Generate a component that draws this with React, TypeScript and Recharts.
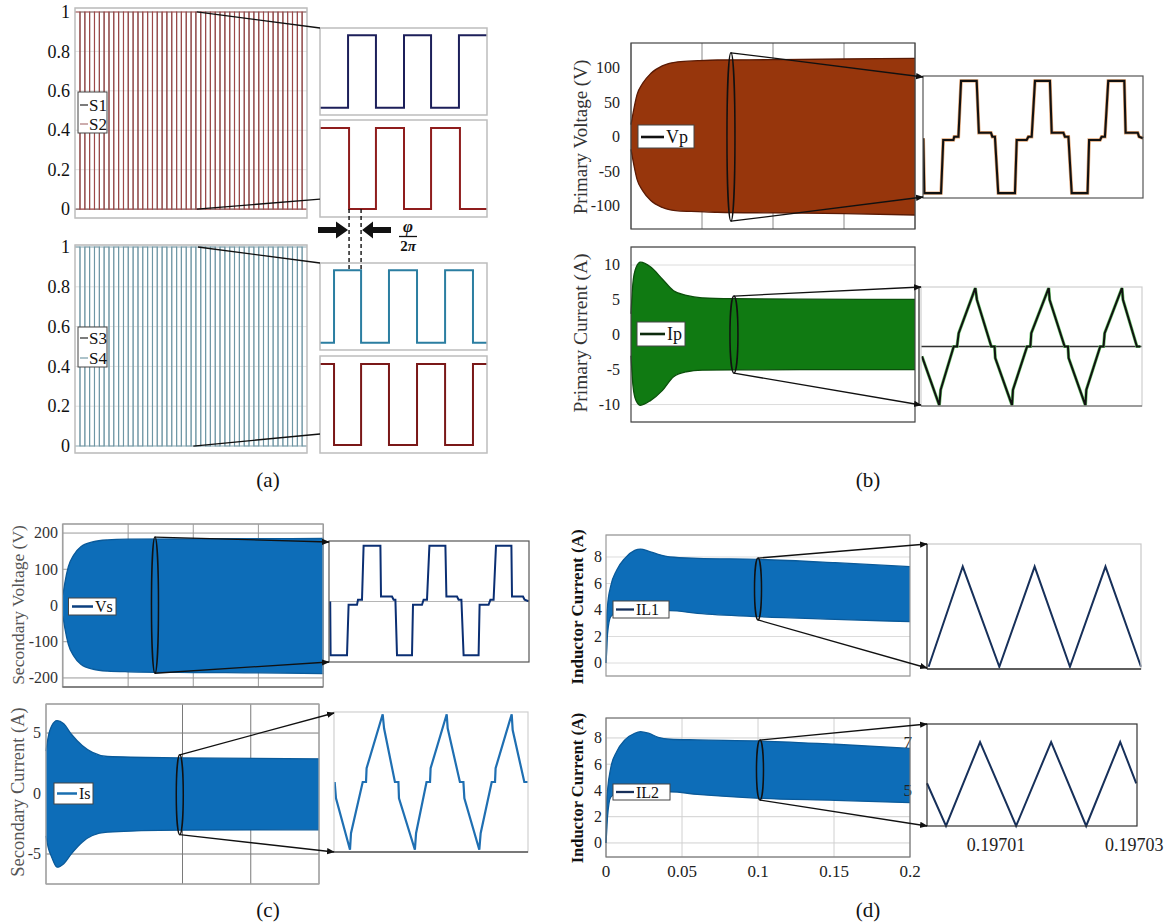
import React from 'react';
import { ComposedChart, Line, Area, XAxis, YAxis, CartesianGrid, ReferenceLine } from 'recharts';

const SERIF = '"Liberation Serif", "Times New Roman", serif';

// ---------------- data ----------------
// (a) gate signals: switching instants (s) over the 0..0.2 s window
const switchEdges = [0.0043, 0.0085, 0.0126, 0.0168, 0.021, 0.0251, 0.0293, 0.0334, 0.0376, 0.0418, 0.0459, 0.0501, 0.0543, 0.0584, 0.0626, 0.0668, 0.0709, 0.0751, 0.0792, 0.0834, 0.0876, 0.0917, 0.0959, 0.1001, 0.1042, 0.1084, 0.1126, 0.1167, 0.1209, 0.125, 0.1292, 0.1334, 0.1375, 0.1417, 0.1459, 0.15, 0.1542, 0.1584, 0.1625, 0.1667, 0.1708, 0.175, 0.1792, 0.1833, 0.1875, 0.1917, 0.1958];
const gateTicks = [0, 0.2, 0.4, 0.6, 0.8, 1];
// zoomed gate signals (zoom window 0..100)
const s1ZoomEdges = [16.8, 33.5, 50.3, 66.5, 83.2];
const s2ZoomEdges = [17.4, 33.5, 50.3, 66.5, 83.8];
const s3ZoomEdges = [8.4, 24.6, 41.3, 58.1, 74.9, 91.6];
const s4ZoomEdges = [8.4, 24.6, 41.3, 58.1, 74.9, 91.6];

const timeTicks = [0, 0.05, 0.1, 0.15, 0.2];

// (b) primary voltage envelope
const vpTime = [0, 0.0014, 0.0042, 0.0083, 0.0139, 0.022, 0.033, 0.047, 0.061, 0.1, 0.15, 0.2];
const vpUpper = [18, 34, 61, 78, 92, 103, 109, 110.6, 111.6, 112, 113, 114];
const vpLower = [-18, -34, -61, -78, -92, -102, -107, -108, -109, -110, -111, -113];
const vpTicks = [-100, -50, 0, 50, 100];
const vpZoomT = [0.15, 0.6, 8.2, 9.2, 13.8, 14.2, 16.1, 17.3, 24.4, 25.4, 30.9, 31.5, 32.7, 34.2, 41.8, 42.6, 47.1, 47.9, 49.4, 50.9, 57.7, 58.5, 63.8, 64.5, 66.1, 67.6, 74.8, 75.5, 80.5, 81.2, 82.7, 84.2, 91.5, 92.1, 97.6, 98.2, 100];
const vpZoomV = [-2, -92, -92, -5, -5, 0.5, 0.5, 92, 92, 7, 7, 0.5, 0.5, -92, -92, -5, -5, 0.5, 0.5, 92, 92, 7, 7, 0.5, 0.5, -92, -92, -5, -5, 0.5, 0.5, 92, 92, 7, 7, 0.5, -2];

// (b) primary current envelope
const ipTime = [0, 0.0014, 0.0035, 0.0067, 0.0139, 0.022, 0.03, 0.039, 0.05, 0.072, 0.12, 0.2];
const ipUpper = [3, 7.5, 9.6, 10.4, 9.7, 8.0, 6.3, 5.65, 5.3, 5.17, 5.1, 5.07];
const ipLower = [-3, -7.3, -9.4, -10.1, -9.4, -8.0, -6.0, -5.3, -5.07, -5.03, -5.0, -5.0];
const ipTicks = [-10, -5, 0, 5, 10];
const ipZoomT = [0.45, 8.3, 8.9, 14.8, 16.3, 17.05, 24.6, 25.3, 31.8, 33.3, 33.6, 41.2, 41.6, 48.0, 49.5, 49.9, 57.8, 58.2, 65.0, 66.5, 66.8, 74.4, 74.8, 81.1, 82.6, 83.1, 90.95, 91.4, 97.7, 99.2];
const ipZoomV = [-1.7, -10.2, -7.5, 0, 0, 2.3, 10.15, 8.1, 0, 0, -2.0, -10.2, -7.5, 0, 0, 2.3, 10.15, 8.1, 0, 0, -2.0, -10.2, -7.5, 0, 0, 2.3, 10.15, 8.1, 0, 0];

// (c) secondary voltage envelope
const vsTime = [0, 0.0014, 0.0041, 0.0082, 0.0137, 0.0233, 0.034, 0.05, 0.1, 0.15, 0.2];
const vsUpper = [30, 62, 107, 139, 162, 176, 181, 183, 184, 184.5, 185];
const vsLower = [-30, -62, -107, -139, -162, -176, -181, -183, -185, -186, -188];
const vsTicks = [-200, -100, 0, 100, 200];
const vsZoomT = [0.6, 0.8, 9, 9.8, 14, 14.5, 16.5, 17.3, 25.7, 26, 31.5, 32.3, 33.2, 34, 41.5, 42, 46.5, 47.3, 49, 50.2, 58.2, 58.7, 64, 64.8, 66.2, 67.3, 74.8, 75.3, 79.8, 80.7, 82.3, 83.5, 91.2, 91.5, 97, 97.8, 99.8];
const vsZoomV = [0, -178, -178, -11, -11, 5.6, 5.6, 184, 184, 16.6, 16.6, 5.6, 5.6, -178, -178, -11, -11, 5.6, 5.6, 184, 184, 16.6, 16.6, 5.6, 5.6, -178, -178, -11, -11, 5.6, 5.6, 184, 184, 16.6, 16.6, 5.6, 1];

// (c) secondary current envelope
const isTime = [0, 0.0015, 0.0042, 0.0081, 0.013, 0.0186, 0.0265, 0.034, 0.045, 0.097, 0.2];
const isUpper = [3.5, 4.6, 5.6, 6.03, 5.76, 4.9, 3.97, 3.4, 3.06, 2.95, 2.87];
const isLower = [-3.5, -4.4, -5.26, -6.09, -5.8, -4.98, -4.02, -3.47, -3.2, -3.03, -3.0];
const isTicks = [-5, 0, 5];
const isZoomT = [0.34, 1.03, 8.25, 8.76, 14.8, 16.5, 16.8, 25.1, 25.8, 31.4, 33.2, 33.5, 41.7, 42.3, 47.7, 49.5, 49.8, 58.1, 58.6, 64.9, 66.7, 67.2, 74.9, 75.6, 81.3, 83.0, 83.3, 91.6, 92.1, 98.1, 100];
const isZoomV = [0, -0.72, -3.0, -2.27, 0, 0, 0.61, 3.0, 2.38, 0, 0, -0.72, -3.0, -2.27, 0, 0, 0.61, 3.0, 2.38, 0, 0, -0.72, -3.0, -2.27, 0, 0, 0.61, 3.0, 2.3, 0, 0];

// (d) inductor currents
const il1Time = [0, 0.0005, 0.001, 0.0031, 0.007, 0.0124, 0.0189, 0.0227, 0.0279, 0.0343, 0.0421, 0.0602, 0.1003, 0.1507, 0.2];
const il1Upper = [0, 3.5, 4.3, 5.8, 7.0, 7.9, 8.5, 8.6, 8.45, 8.2, 8.0, 7.9, 7.82, 7.57, 7.27];
const il1Lower = [0, 1.0, 2.2, 3.5, 3.8, 3.9, 3.95, 3.95, 3.95, 3.95, 3.95, 3.75, 3.5, 3.3, 3.12];
const il2Time = [0, 0.0005, 0.001, 0.0031, 0.007, 0.0124, 0.0189, 0.0227, 0.0279, 0.0343, 0.0421, 0.0602, 0.1013, 0.1507, 0.2];
const il2Upper = [0, 3.2, 4.0, 5.7, 6.95, 7.85, 8.36, 8.48, 8.36, 8.05, 7.9, 7.85, 7.77, 7.52, 7.2];
const il2Lower = [0, 1.0, 2.0, 3.5, 3.8, 3.9, 3.9, 3.9, 3.9, 3.9, 3.9, 3.7, 3.4, 3.25, 3.07];
const ilTicks = [0, 2, 4, 6, 8];
const il1ZoomT = [0.75, 16.7, 33.8, 50.3, 66.8, 83.4, 100];
const il1ZoomV = [3.2, 7.2, 3.2, 7.2, 3.2, 7.2, 3.2];
const il2ZoomT = [0.197, 0.19700275, 0.19700768, 0.1970129, 0.19701797, 0.19702304, 0.19702797, 0.19703029];
const il2ZoomV = [5.28, 3.5, 7.0, 3.5, 7.0, 3.5, 7.0, 5.28];
const il2ZoomXTicks = [0.19701, 0.19703];
const il2ZoomYTicks = [5, 7];

// ---------------- builders ----------------
type Pt = { t: number; v: number };
const toPoints = (ts: number[], vs: number[]): Pt[] => ts.map((t, i) => ({ t, v: vs[i] }));
const toBand = (ts: number[], hi: number[], lo: number[]) => ts.map((t, i) => ({ t, band: [lo[i], hi[i]] }));
function stepSeries(edges: number[], startHigh: boolean, t0: number, t1: number): Pt[] {
  let level = startHigh ? 1 : 0;
  const pts: Pt[] = [{ t: t0, v: level }];
  for (const e of edges) {
    pts.push({ t: e, v: level });
    level = 1 - level;
    pts.push({ t: e, v: level });
  }
  pts.push({ t: t1, v: level });
  return pts;
}

// ---------------- layout ----------------
type Box = { x: number; y: number; w: number; h: number };
type Dom = [number, number];
const T: Dom = [0, 0.2];
const Z: Dom = [0, 100];

const aTopBox: Box = { x: 75, y: 8, w: 232, h: 210 };
const aTopDom: Dom = [-0.045, 1.02];
const aBotBox: Box = { x: 75, y: 245, w: 232, h: 208 };
const aBotDom: Dom = [-0.035, 1.01];
const s1Box: Box = { x: 320, y: 28, w: 167, h: 87 };
const s2Box: Box = { x: 320, y: 120, w: 167, h: 97 };
const s3Box: Box = { x: 320, y: 263, w: 167, h: 87 };
const s4Box: Box = { x: 320, y: 356, w: 167, h: 97 };
const sDom: Dom = [-0.1, 1.1];

const vpBox: Box = { x: 631, y: 43, w: 284, h: 186 };
const vpDom: Dom = [-133.3, 136.2];
const vpZBox: Box = { x: 923, y: 76, w: 220, h: 122 };
const vpZDom: Dom = [-100, 100];
const ipBox: Box = { x: 631, y: 247, w: 284, h: 175 };
const ipDom: Dom = [-12.5, 12.58];
const ipZBox: Box = { x: 921, y: 287, w: 221, h: 119 };
const ipZDom: Dom = [-10.3, 10.3];

const vsBox: Box = { x: 62.5, y: 524, w: 260.5, h: 163 };
const vsDom: Dom = [-225, 225];
const vsZBox: Box = { x: 329, y: 541, w: 200, h: 121 };
const vsZDom: Dom = [-200, 200];
const isBox: Box = { x: 46, y: 704, w: 273, h: 180 };
const isDom: Dom = [-7.48, 7.4];
const isZBox: Box = { x: 334, y: 712, w: 194, h: 140 };
const isZDom: Dom = [-3.1, 3.1];

const il1Box: Box = { x: 606, y: 535, w: 304, h: 141 };
const il1Dom: Dom = [-0.98, 9.66];
const il1ZBox: Box = { x: 927, y: 544, w: 214, h: 125 };
const il1ZDom: Dom = [3.11, 8.1];
const il2Box: Box = { x: 606, y: 718, w: 304, h: 139 };
const il2Dom: Dom = [-1.07, 9.52];
const il2ZBox: Box = { x: 927, y: 724, w: 210, h: 102 };
const il2ZDom: Dom = [3.5, 7.75];
const il2ZXDom: Dom = [0.197, 0.1970304];

const px = (b: Box, d: Dom, t: number) => b.x + ((t - d[0]) / (d[1] - d[0])) * b.w;
const py = (b: Box, d: Dom, v: number) => b.y + ((d[1] - v) / (d[1] - d[0])) * b.h;

// ---------------- tick renderers ----------------
const yTickRenderer = (fs: number, color: string) => (props: any) => (
  <text x={props.x} y={props.y} dy="0.34em" textAnchor="end" fontFamily={SERIF} fontSize={fs} fill={color}>
    {props.payload.value}
  </text>
);
const xTickRenderer = (fs: number, color: string) => (props: any) => (
  <text x={props.x} y={props.y} dy="0.71em" textAnchor="middle" fontFamily={SERIF} fontSize={fs} fill={color}>
    {props.payload.value}
  </text>
);

// ---------------- plot wrapper ----------------
interface PlotProps {
  box: Box;
  xDomain: Dom;
  yDomain: Dom;
  yTicks?: number[];
  xTicks?: number[];
  showY?: boolean;
  showX?: boolean;
  gridH?: boolean;
  gridV?: boolean;
  gridColor?: string;
  fontSize?: number;
  xFontSize?: number;
  tickColor?: string;
  yGap?: number;
  xGap?: number;
  padL?: number;
  padB?: number;
  padR?: number;
  children?: React.ReactNode;
}

function Plot(p: PlotProps) {
  const padL = p.showY ? p.padL ?? 50 : 0;
  const padB = p.showX ? p.padB ?? 30 : 0;
  const padT = p.showY ? 12 : 1;
  const extraB = p.showY && !p.showX ? 12 : 0;
  const padR = p.padR ?? 1;
  const W = p.box.w + padL + padR;
  const H = p.box.h + padT + padB + extraB;
  const color = p.tickColor ?? '#222';
  return (
    <div style={{ position: 'absolute', left: p.box.x - padL, top: p.box.y - padT, width: W, height: H }}>
      <ComposedChart width={W} height={H} margin={{ top: padT, right: padR, bottom: extraB, left: 0 }}>
        {(p.gridH || p.gridV) && (
          <CartesianGrid horizontal={!!p.gridH} vertical={!!p.gridV} stroke={p.gridColor ?? '#ddd'} strokeWidth={1} />
        )}
        <XAxis
          type="number"
          dataKey="t"
          domain={p.xDomain}
          ticks={p.xTicks}
          interval={0}
          hide={!p.showX}
          height={padB}
          tickSize={0}
          tickMargin={p.xGap ?? 8}
          axisLine={false}
          tickLine={false}
          tick={xTickRenderer(p.xFontSize ?? p.fontSize ?? 15, color)}
        />
        <YAxis
          type="number"
          domain={p.yDomain}
          ticks={p.yTicks}
          interval={0}
          hide={!p.showY}
          width={padL}
          tickSize={0}
          tickMargin={p.yGap ?? 6}
          axisLine={false}
          tickLine={false}
          tick={yTickRenderer(p.fontSize ?? 15, color)}
        />
        {p.children}
      </ComposedChart>
    </div>
  );
}

const band = (data: any[], fill: string, stroke: string) => (
  <Area
    data={data}
    dataKey="band"
    type="monotone"
    fill={fill}
    fillOpacity={1}
    stroke={stroke}
    strokeWidth={1.3}
    dot={false}
    activeDot={false}
    isAnimationActive={false}
  />
);

const wave = (data: Pt[], stroke: string, width = 2, key?: string) => (
  <Line
    key={key}
    data={data}
    dataKey="v"
    type="linear"
    stroke={stroke}
    strokeWidth={width}
    dot={false}
    activeDot={false}
    isAnimationActive={false}
  />
);

// ---------------- overlay helpers ----------------
function Rect({ b, c, w = 1.2 }: { b: Box; c: string; w?: number }) {
  return <rect x={b.x} y={b.y} width={b.w} height={b.h} fill="none" stroke={c} strokeWidth={w} />;
}

function Legend({ x, y, w, h, items, fontSize }: { x: number; y: number; w: number; h: number; fontSize: number; items: { label: string; color: string; lx1: number; lx2: number; ty: number; tx: number; lw?: number }[] }) {
  return (
    <g>
      <rect x={x} y={y} width={w} height={h} fill="#fff" stroke="#444" strokeWidth={1} />
      {items.map((it, i) => (
        <g key={i}>
          <line x1={it.lx1} x2={it.lx2} y1={it.ty} y2={it.ty} stroke={it.color} strokeWidth={it.lw ?? 2.2} />
          <text x={it.tx} y={it.ty} dy="0.35em" fontFamily={SERIF} fontSize={fontSize} fill="#111">
            {it.label}
          </text>
        </g>
      ))}
    </g>
  );
}

function YLabel({ x, y, text, size, color = '#333', bold = false }: { x: number; y: number; text: string; size: number; color?: string; bold?: boolean }) {
  return (
    <text
      x={x}
      y={y}
      transform={`rotate(-90 ${x} ${y})`}
      textAnchor="middle"
      dominantBaseline="central"
      fontFamily={SERIF}
      fontSize={size}
      fontWeight={bold ? 'bold' : 'normal'}
      fill={color}
    >
      {text}
    </text>
  );
}

type Zoom = { t: number; hi: number; lo: number };

export default function App() {
  // (a) data
  const s1Main = stepSeries(switchEdges, false, 0, 0.2);
  const s2Main = stepSeries(switchEdges, true, 0, 0.2);
  const s3Main = stepSeries(switchEdges, false, 0, 0.2);
  const s4Main = stepSeries(switchEdges, true, 0, 0.2);
  const s1Zoom = stepSeries(s1ZoomEdges, false, 0, 100);
  const s2Zoom = stepSeries(s2ZoomEdges, true, 0, 100);
  const s3Zoom = stepSeries(s3ZoomEdges, false, 0, 100);
  const s4Zoom = stepSeries(s4ZoomEdges, true, 0, 100);

  // zoom annotation anchors (data coords)
  const vpEll: Zoom = { t: 0.0704, hi: 122, lo: -122 };
  const ipEll: Zoom = { t: 0.0725, hi: 5.55, lo: -5.5 };
  const vsEll: Zoom = { t: 0.071, hi: 189, lo: -187 };
  const isEll: Zoom = { t: 0.098, hi: 3.2, lo: -3.4 };
  const il1Ell: Zoom = { t: 0.1, hi: 7.92, lo: 3.25 };
  const il2Ell: Zoom = { t: 0.1013, hi: 7.84, lo: 3.27 };

  const ellipse = (b: Box, d: Dom, e: Zoom, rx: number) => {
    const cx = px(b, T, e.t);
    const y1 = py(b, d, e.hi);
    const y2 = py(b, d, e.lo);
    return <ellipse cx={cx} cy={(y1 + y2) / 2} rx={rx} ry={(y2 - y1) / 2} fill="none" stroke="#111" strokeWidth={1.5} />;
  };
  const connectors = (b: Box, d: Dom, e: Zoom, zb: Box, topY: number, botY: number) => {
    const x = px(b, T, e.t);
    return (
      <g>
        <line x1={x} y1={py(b, d, e.hi)} x2={zb.x} y2={topY} stroke="#111" strokeWidth={1.3} markerEnd="url(#arr)" />
        <line x1={x} y1={py(b, d, e.lo)} x2={zb.x} y2={botY} stroke="#111" strokeWidth={1.3} markerEnd="url(#arr)" />
      </g>
    );
  };

  const dash1x = px(s2Box, Z, s2ZoomEdges[0]);
  const dash2x = px(s3Box, Z, s3ZoomEdges[1]);
  const dashTop = py(s2Box, sDom, 0);
  const dashBot = py(s3Box, sDom, 1);

  return (
    <div style={{ position: 'absolute', left: 0, top: 0, width: 1176, height: 924, background: '#fff', overflow: 'hidden', fontFamily: SERIF }}>
      {/* ---------------- (a) ---------------- */}
      <Plot box={aTopBox} xDomain={T} yDomain={aTopDom} yTicks={gateTicks} showY gridH gridColor="#e2e2e2" fontSize={18} tickColor="#111" yGap={5} padL={70}>
        {wave(s1Main, '#7c5a5a', 1.1)}
        {wave(s2Main, '#9c4848', 1.1)}
      </Plot>
      <Plot box={aBotBox} xDomain={T} yDomain={aBotDom} yTicks={gateTicks} showY gridH gridColor="#e2e2e2" fontSize={18} tickColor="#111" yGap={5} padL={70}>
        {wave(s3Main, '#9ab5bf', 1.1)}
        {wave(s4Main, '#6e96a4', 1.1)}
      </Plot>
      <Plot box={s1Box} xDomain={Z} yDomain={sDom}>{wave(s1Zoom, '#1c1f5a', 2)}</Plot>
      <Plot box={s2Box} xDomain={Z} yDomain={sDom}>{wave(s2Zoom, '#8f1d1d', 2)}</Plot>
      <Plot box={s3Box} xDomain={Z} yDomain={sDom}>{wave(s3Zoom, '#2b7ea1', 2)}</Plot>
      <Plot box={s4Box} xDomain={Z} yDomain={sDom}>{wave(s4Zoom, '#7a1818', 2)}</Plot>

      {/* ---------------- (b) ---------------- */}
      <Plot box={vpBox} xDomain={T} yDomain={vpDom} yTicks={vpTicks} xTicks={[0.05, 0.1, 0.15]} showY gridV gridColor="#8a8a8a" fontSize={16} yGap={11} padL={50}>
        {band(toBand(vpTime, vpUpper, vpLower), '#97360c', '#5a1a04')}
      </Plot>
      <Plot box={vpZBox} xDomain={Z} yDomain={vpZDom}>
        {wave(toPoints(vpZoomT, vpZoomV), '#e2a574', 3.4, 'u')}
        {wave(toPoints(vpZoomT, vpZoomV), '#111', 2.1, 'o')}
      </Plot>
      <Plot box={ipBox} xDomain={T} yDomain={ipDom} yTicks={ipTicks} showY gridH gridColor="#dcdcdc" fontSize={16} yGap={11} padL={50}>
        {band(toBand(ipTime, ipUpper, ipLower), '#107a12', '#0b4f0b')}
      </Plot>
      <Plot box={ipZBox} xDomain={Z} yDomain={ipZDom}>
        <ReferenceLine y={0} stroke="#333" strokeWidth={1.5} />
        {wave(toPoints(ipZoomT, ipZoomV), '#6cc46c', 3.2, 'u')}
        {wave(toPoints(ipZoomT, ipZoomV), '#111', 2, 'o')}
      </Plot>

      {/* ---------------- (c) ---------------- */}
      <Plot box={vsBox} xDomain={T} yDomain={vsDom} yTicks={vsTicks} xTicks={[0.05, 0.1, 0.15]} showY gridH gridV gridColor="#9a9a9a" fontSize={16} tickColor="#333" yGap={5} padL={60}>
        {band(toBand(vsTime, vsUpper, vsLower), '#0d6db8', '#0a5a9a')}
      </Plot>
      <Plot box={vsZBox} xDomain={Z} yDomain={vsZDom}>
        <ReferenceLine y={0} stroke="#b5b5b5" strokeWidth={1.2} />
        {wave(toPoints(vsZoomT, vsZoomV), '#0b2f73', 2)}
      </Plot>
      <Plot box={isBox} xDomain={T} yDomain={isDom} yTicks={isTicks} xTicks={[0.1, 0.15]} showY gridH gridV gridColor="#7a7a7a" fontSize={16} tickColor="#333" yGap={5} padL={44}>
        {band(toBand(isTime, isUpper, isLower), '#0d6db8', '#0a5a9a')}
      </Plot>
      <Plot box={isZBox} xDomain={Z} yDomain={isZDom}>{wave(toPoints(isZoomT, isZoomV), '#1f6fb2', 2.2)}</Plot>

      {/* ---------------- (d) ---------------- */}
      <Plot box={il1Box} xDomain={T} yDomain={il1Dom} yTicks={ilTicks} showY gridH gridColor="#dcdcdc" fontSize={16} yGap={4} padL={44}>
        {band(toBand(il1Time, il1Upper, il1Lower), '#0d6db8', '#0a5a9a')}
      </Plot>
      <Plot box={il1ZBox} xDomain={Z} yDomain={il1ZDom}>{wave(toPoints(il1ZoomT, il1ZoomV), '#17305a', 2)}</Plot>
      <Plot box={il2Box} xDomain={T} yDomain={il2Dom} yTicks={ilTicks} xTicks={timeTicks} showY showX gridH gridV gridColor="#d0d0d0" fontSize={16} xFontSize={17} yGap={4} xGap={8} padL={44} padB={30} padR={16}>
        {band(toBand(il2Time, il2Upper, il2Lower), '#0d6db8', '#0a5a9a')}
      </Plot>
      <Plot box={il2ZBox} xDomain={il2ZXDom} yDomain={il2ZDom} yTicks={il2ZoomYTicks} xTicks={il2ZoomXTicks} showY showX fontSize={17} xFontSize={18} yGap={15} xGap={12} padL={30} padB={34} padR={36}>
        {wave(toPoints(il2ZoomT, il2ZoomV), '#17305a', 2)}
      </Plot>

      {/* ---------------- annotations ---------------- */}
      <svg width={1176} height={924} style={{ position: 'absolute', left: 0, top: 0, pointerEvents: 'none' }}>
        <defs>
          <marker id="arr" viewBox="0 0 10 10" refX="9" refY="5" markerWidth="6" markerHeight="6" orient="auto">
            <path d="M0,1 L10,5 L0,9 z" fill="#111" />
          </marker>
        </defs>

        {/* frames (a) */}
        <Rect b={aTopBox} c="#bdbdbd" w={1.5} />
        <Rect b={aBotBox} c="#bdbdbd" w={1.5} />
        <Rect b={s1Box} c="#bdbdbd" w={1.5} />
        <Rect b={s2Box} c="#bdbdbd" w={1.5} />
        <Rect b={s3Box} c="#bdbdbd" w={1.5} />
        <Rect b={s4Box} c="#bdbdbd" w={1.5} />

        {/* (a) zoom connectors */}
        <line x1={px(aTopBox, T, 0.105)} y1={py(aTopBox, aTopDom, 1)} x2={s1Box.x} y2={s1Box.y} stroke="#111" strokeWidth={1.3} />
        <line x1={px(aTopBox, T, 0.105)} y1={py(aTopBox, aTopDom, 0)} x2={s2Box.x} y2={py(s2Box, sDom, 0.12)} stroke="#111" strokeWidth={1.3} />
        <line x1={px(aBotBox, T, 0.106)} y1={py(aBotBox, aBotDom, 1)} x2={s3Box.x} y2={s3Box.y} stroke="#111" strokeWidth={1.3} />
        <line x1={px(aBotBox, T, 0.102)} y1={py(aBotBox, aBotDom, 0)} x2={s4Box.x} y2={py(s4Box, sDom, 0.135)} stroke="#111" strokeWidth={1.3} />

        {/* phase shift annotation */}
        <line x1={dash1x} x2={dash1x} y1={dashTop} y2={dashBot} stroke="#111" strokeWidth={1.4} strokeDasharray="4 3" />
        <line x1={dash2x} x2={dash2x} y1={dashTop} y2={dashBot} stroke="#111" strokeWidth={1.4} strokeDasharray="4 3" />
        <polygon points={`318,227 336,227 336,221.5 ${dash1x - 1},230 336,238.5 336,233 318,233`} fill="#111" />
        <polygon points={`391,227 373,227 373,221.5 ${dash2x + 1},230 373,238.5 373,233 391,233`} fill="#111" />
        <text x={408} y={226} textAnchor="middle" dominantBaseline="central" fontFamily={SERIF} fontStyle="italic" fontWeight="bold" fontSize={17} fill="#111">φ</text>
        <line x1={399} x2={417} y1={236.5} y2={236.5} stroke="#111" strokeWidth={1.3} />
        <text x={408} y={246} textAnchor="middle" dominantBaseline="central" fontFamily={SERIF} fontWeight="bold" fontSize={15} fill="#111">2<tspan fontStyle="italic">π</tspan></text>

        <Legend x={78} y={92} w={29} h={41} fontSize={17} items={[
          { label: 'S1', color: '#444', lx1: 80, lx2: 88, ty: 105, tx: 89, lw: 1.4 },
          { label: 'S2', color: '#b88a8a', lx1: 80, lx2: 88, ty: 124, tx: 89, lw: 1.4 },
        ]} />
        <Legend x={78} y={327} w={29} h={40} fontSize={17} items={[
          { label: 'S3', color: '#444', lx1: 80, lx2: 88, ty: 338, tx: 89, lw: 1.4 },
          { label: 'S4', color: '#8aa9b3', lx1: 80, lx2: 88, ty: 358, tx: 89, lw: 1.4 },
        ]} />

        {/* frames (b) */}
        <Rect b={vpBox} c="#444" />
        <Rect b={vpZBox} c="#555" />
        <Rect b={ipBox} c="#444" />
        <Rect b={ipZBox} c="#cfcfcf" />
        <line x1={ipZBox.x} x2={ipZBox.x + ipZBox.w} y1={ipZBox.y + ipZBox.h} y2={ipZBox.y + ipZBox.h} stroke="#555" strokeWidth={1.2} />
        <line x1={ipZBox.x - 2} x2={ipZBox.x - 2} y1={ipZBox.y} y2={ipZBox.y + ipZBox.h} stroke="#222" strokeWidth={1.2} />
        {ellipse(vpBox, vpDom, vpEll, 4)}
        {connectors(vpBox, vpDom, vpEll, vpZBox, vpZBox.y + 1, vpZBox.y + vpZBox.h - 1)}
        {ellipse(ipBox, ipDom, ipEll, 4)}
        {connectors(ipBox, ipDom, ipEll, ipZBox, ipZBox.y, ipZBox.y + ipZBox.h - 1)}
        <Legend x={638} y={125} w={56} h={23} fontSize={18} items={[
          { label: 'Vp', color: '#111', lx1: 641, lx2: 664, ty: 137, tx: 666, lw: 2.6 },
        ]} />
        <Legend x={637} y={322} w={48} h={24} fontSize={18} items={[
          { label: 'Ip', color: '#0c2a0c', lx1: 640, lx2: 665, ty: 334, tx: 667, lw: 2.6 },
        ]} />
        <YLabel x={580} y={137} text="Primary Voltage (V)" size={19} color="#333" />
        <YLabel x={580} y={333} text="Primary Current (A)" size={19.5} color="#333" />

        {/* frames (c) */}
        <Rect b={vsBox} c="#a0a0a0" />
        <line x1={vsBox.x} x2={vsBox.x + vsBox.w} y1={vsBox.y + vsBox.h} y2={vsBox.y + vsBox.h} stroke="#555" strokeWidth={1.2} />
        <Rect b={vsZBox} c="#555" />
        <Rect b={isBox} c="#aaaaaa" />
        <Rect b={isZBox} c="#d0d0d0" />
        <line x1={isZBox.x} x2={isZBox.x + isZBox.w} y1={isZBox.y + isZBox.h} y2={isZBox.y + isZBox.h} stroke="#555" strokeWidth={1.4} />
        {ellipse(vsBox, vsDom, vsEll, 3.5)}
        {connectors(vsBox, vsDom, vsEll, vsZBox, vsZBox.y + 1, vsZBox.y + vsZBox.h)}
        {ellipse(isBox, isDom, isEll, 3.5)}
        {connectors(isBox, isDom, isEll, isZBox, isZBox.y + 1, isZBox.y + isZBox.h)}
        <Legend x={68.5} y={598} w={47.5} h={17} fontSize={16} items={[
          { label: 'Vs', color: '#0b3f7f', lx1: 72, lx2: 93, ty: 606.5, tx: 95, lw: 2.5 },
        ]} />
        <Legend x={54} y={783} w={39} h={21} fontSize={16} items={[
          { label: 'Is', color: '#1a6fb0', lx1: 57, lx2: 77, ty: 793.5, tx: 79, lw: 2.5 },
        ]} />
        <YLabel x={18} y={605} text="Secondary Voltage (V)" size={17.5} color="#555" />
        <YLabel x={18} y={792} text="Secondary Current (A)" size={18.5} color="#555" />

        {/* frames (d) */}
        <Rect b={il1Box} c="#9a9a9a" />
        <Rect b={il1ZBox} c="#c8c8c8" />
        <line x1={il1ZBox.x} x2={il1ZBox.x + il1ZBox.w} y1={il1ZBox.y + il1ZBox.h} y2={il1ZBox.y + il1ZBox.h} stroke="#333" strokeWidth={1.3} />
        <line x1={il1ZBox.x} x2={il1ZBox.x} y1={il1ZBox.y} y2={il1ZBox.y + il1ZBox.h} stroke="#333" strokeWidth={1.3} />
        <Rect b={il2Box} c="#777" />
        <Rect b={il2ZBox} c="#333" />
        {ellipse(il1Box, il1Dom, il1Ell, 3.5)}
        {connectors(il1Box, il1Dom, il1Ell, il1ZBox, il1ZBox.y, il1ZBox.y + il1ZBox.h - 1)}
        {ellipse(il2Box, il2Dom, il2Ell, 3.5)}
        {connectors(il2Box, il2Dom, il2Ell, il2ZBox, il2ZBox.y, il2ZBox.y + il2ZBox.h)}
        <Legend x={613} y={601} w={56} h={17} fontSize={16} items={[
          { label: 'IL1', color: '#17305a', lx1: 616, lx2: 634, ty: 609.5, tx: 636, lw: 2.3 },
        ]} />
        <Legend x={613} y={784} w={57} h={16} fontSize={16} items={[
          { label: 'IL2', color: '#17305a', lx1: 616, lx2: 634, ty: 792, tx: 636, lw: 2.3 },
        ]} />
        <YLabel x={577} y={607} text="Inductor Current (A)" size={17} color="#111" bold />
        <YLabel x={577} y={788} text="Inductor Current (A)" size={16.5} color="#111" bold />

        {/* panel captions */}
        {[
          { l: '(a)', x: 268, y: 480 },
          { l: '(b)', x: 868, y: 480 },
          { l: '(c)', x: 268, y: 910 },
          { l: '(d)', x: 868, y: 910 },
        ].map((c) => (
          <text key={c.l} x={c.x} y={c.y} textAnchor="middle" dominantBaseline="central" fontFamily={SERIF} fontSize={21} fill="#111">
            {c.l}
          </text>
        ))}
      </svg>
    </div>
  );
}
